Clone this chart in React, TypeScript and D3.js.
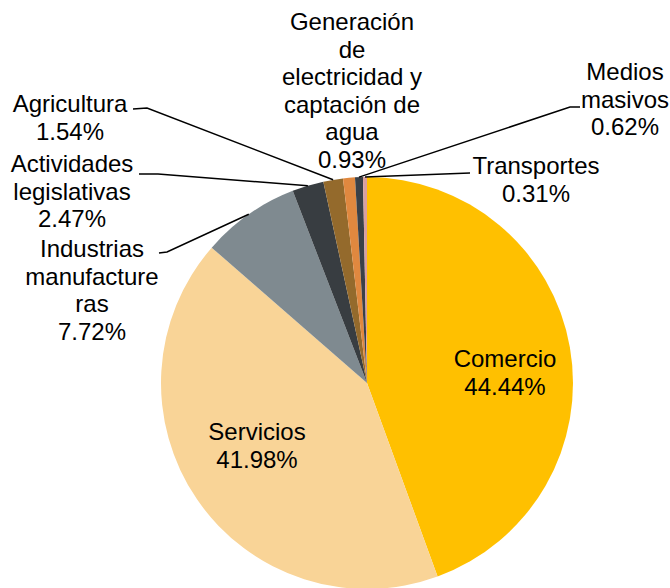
import React from 'react';
import * as d3 from 'd3';

const categories = [
  'Comercio',
  'Servicios',
  'Industrias manufactureras',
  'Actividades legislativas',
  'Agricultura',
  'Generación de electricidad y captación de agua',
  'Medios masivos',
  'Transportes',
];
const shares = [44.44, 41.98, 7.72, 2.47, 1.54, 0.93, 0.62, 0.31];
const colors = ['#FFC000', '#F9D497', '#7F8A90', '#383D41', '#946A2C', '#E0883F', '#3A4048', '#D9A0A0'];

// label text lines per slice
const labelLines = [
  ['Comercio', '44.44%'],
  ['Servicios', '41.98%'],
  ['Industrias', 'manufacture', 'ras', '7.72%'],
  ['Actividades', 'legislativas', '2.47%'],
  ['Agricultura', '1.54%'],
  ['Generación', 'de', 'electricidad y', 'captación de', 'agua', '0.93%'],
  ['Medios', 'masivos', '0.62%'],
  ['Transportes', '0.31%'],
];

const width = 670;
const height = 588;
const cx = 367;
const cy = 383;
const radius = 206;
const fontSize = 24;
const lineH = 27.5;

// label anchor (center x, first line y) and elbow points for leaders
const labelPos: { x: number; y: number; elbow?: [number, number][] }[] = [
  { x: 505, y: 358 },
  { x: 257, y: 431 },
  { x: 92, y: 248, elbow: [[159, 253], [167, 252]] },
  { x: 72, y: 163, elbow: [[139, 174], [158, 174]] },
  { x: 70, y: 103, elbow: [[133, 109], [147, 108]] },
  { x: 352, y: 21 },
  { x: 625, y: 71, elbow: [[580, 107], [570, 107]] },
  { x: 536, y: 165, elbow: [[470, 173]] },
];

const App: React.FC = () => {
  const data = categories.map((c, i) => ({ name: c, value: shares[i] }));
  const pie = d3
    .pie<{ name: string; value: number }>()
    .sort(null)
    .value((d) => d.value)
    .startAngle(0)
    .endAngle(2 * Math.PI);
  const arcs = pie(data);
  const arc = d3
    .arc<d3.PieArcDatum<{ name: string; value: number }>>()
    .innerRadius(0)
    .outerRadius(radius);

  return (
    <svg
      width={width}
      height={height}
      style={{ position: 'absolute', left: 0, top: 0, background: '#fff' }}
    >
      <g transform={`translate(${cx},${cy})`}>
        {arcs.map((a, i) => (
          <path key={i} d={arc(a) || ''} fill={colors[i]} />
        ))}
      </g>
      {arcs.map((a, i) => {
        const p = labelPos[i];
        if (!p.elbow) return null;
        const mid = (a.startAngle + a.endAngle) / 2;
        const ex = cx + radius * Math.sin(mid);
        const ey = cy - radius * Math.cos(mid);
        const pts: [number, number][] = [...p.elbow, [ex, ey]];
        const line = d3.line()(pts) || '';
        return <path key={'l' + i} d={line} fill="none" stroke="#000" strokeWidth={1.5} />;
      })}
      {labelLines.map((lines, i) => (
        <text
          key={'t' + i}
          x={labelPos[i].x}
          y={labelPos[i].y}
          textAnchor="middle"
          dominantBaseline="central"
          fontFamily="Arial, 'Liberation Sans', sans-serif"
          fontSize={fontSize}
          fill="#000"
        >
          {lines.map((t, j) => (
            <tspan key={j} x={labelPos[i].x} y={labelPos[i].y + j * lineH}>
              {t}
            </tspan>
          ))}
        </text>
      ))}
    </svg>
  );
};

export default App;
